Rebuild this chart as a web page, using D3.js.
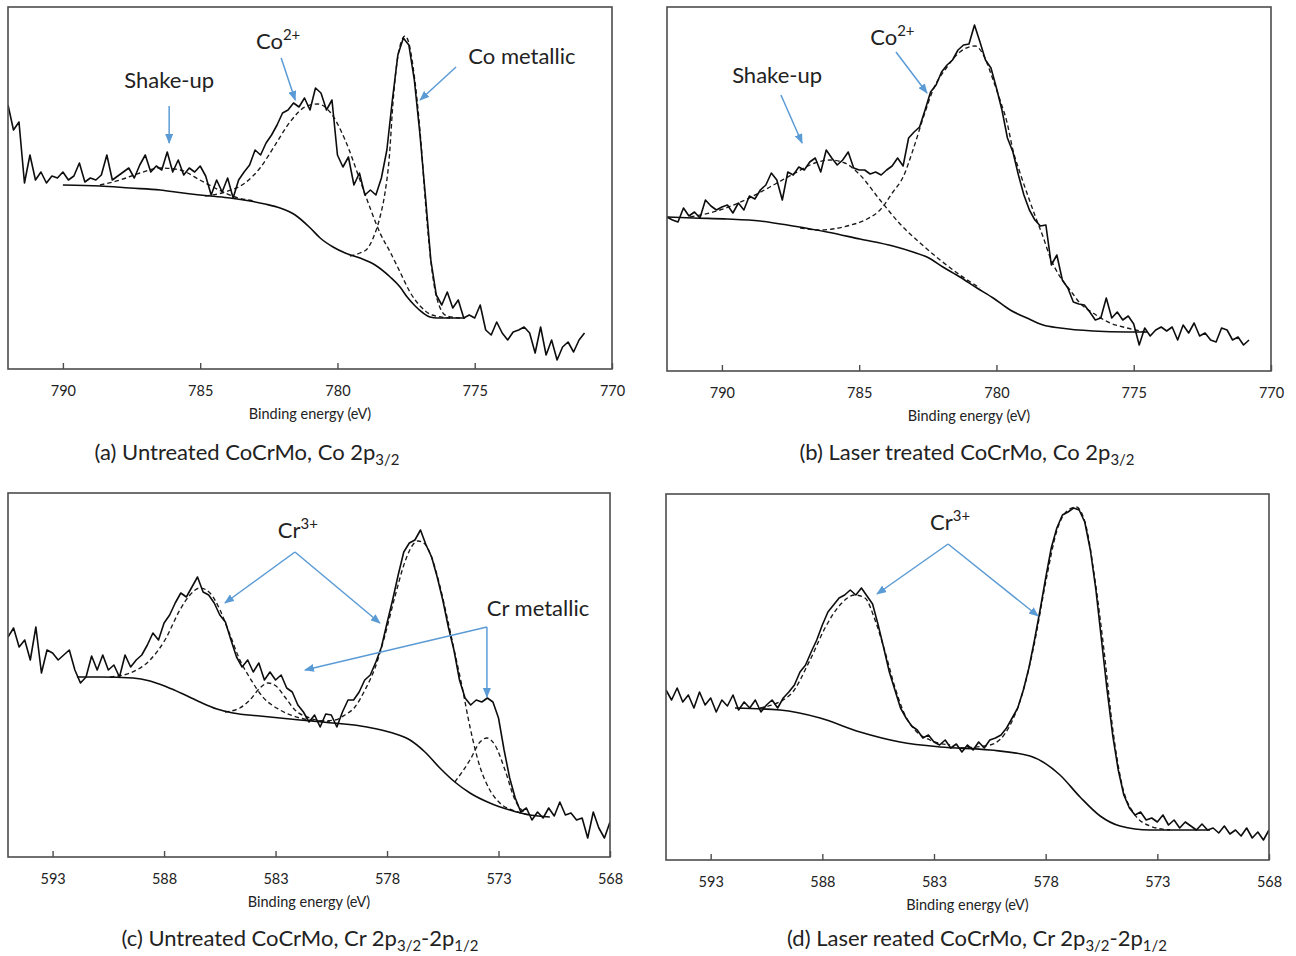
<!DOCTYPE html>
<html>
<head>
<meta charset="utf-8">
<title>XPS spectra of CoCrMo</title>
<script src="https://cdn.jsdelivr.net/npm/d3@7"></script>
<style>
  html, body { margin: 0; padding: 0; background: #fff; }
  svg { display: block; }
</style>
</head>
<body>
<svg id="fig" width="1296" height="956"></svg>
<script>
// ---------------------------------------------------------------
// Tick labels (binding energy, eV)
const coTicks = [790, 785, 780, 775, 770];
const crTicks = [593, 588, 583, 578, 573, 568];

// ---------------------------------------------------------------
// (a) Untreated CoCrMo, Co 2p3/2 — raw counts on a 0.2 eV grid starting at 792 eV
const aStart = 792, aStep = 0.2;
const aCounts = [
  264, 239, 247, 186, 214, 189, 197, 186, 193, 191,
  197, 189, 193, 206, 187, 191, 189, 194, 214, 189,
  193, 197, 201, 191, 204, 214, 197, 203, 199, 217,
  197, 209, 194, 201, 197, 203, 193, 174, 189, 177,
  191, 171, 189, 197, 204, 219, 214, 226, 234, 244,
  256, 259, 266, 262, 271, 259, 281, 276, 259, 269,
  214, 202, 212, 184, 196, 174, 179, 174, 191, 219,
  269, 314, 331, 324, 289, 236, 174, 109, 74, 64,
  77, 61, 69, 51, 54, 51, 64, 39, 34, 47,
  36, 29, 37, 39, 42, 36, 16, 42, 14, 29,
  9, 22, 27, 17, 29, 36
];
// Shirley background
const aBgEV = [790.0, 788.65, 787.56, 786.46, 785.62, 784.64, 783.91, 783.18, 782.64, 782.09, 781.54, 780.99, 780.63, 780.16, 779.72, 779.18, 778.63, 778.08, 777.72, 777.46, 777.17, 776.88, 776.63, 776.37, 775.35];
const aBg   = [184, 183, 181, 179, 176, 173, 171, 168, 165, 161, 154, 141, 131, 122, 116, 111, 104, 92, 82, 72, 63, 56, 52, 51, 51];
// Fitted components (component + background)
const aShakeEV = [788.65, 787.92, 787.19, 786.46, 785.73, 785.01, 784.46, 783.73, 783.0];
const aShake   = [184, 189, 196, 201, 199, 189, 181, 172, 168];
const aCo2EV = [784.82, 784.09, 783.37, 782.82, 782.27, 781.73, 781.18, 780.71, 780.27, 779.72, 779.18, 778.81, 778.45, 778.08, 777.72, 777.36, 776.99, 776.55, 775.9];
const aCo2   = [173, 177, 186, 201, 224, 247, 262, 265, 257, 229, 189, 161, 136, 117, 97, 77, 63, 54, 51];
const aMetEV = [779.54, 779.18, 778.92, 778.70, 778.45, 778.27, 778.12, 777.97, 777.83, 777.68, 777.54, 777.39, 777.25, 777.10, 776.95, 776.81, 776.66, 776.48, 776.26, 776.01, 775.54];
const aMet   = [113, 116, 120, 131, 152, 176, 209, 269, 307, 327, 333, 325, 303, 269, 224, 172, 124, 84, 61, 53, 51];

// ---------------------------------------------------------------
// (b) Laser treated CoCrMo, Co 2p3/2
const bStart = 792, bStep = 0.2;
const bCounts = [
  154, 151, 149, 163, 155, 159, 153, 171, 165, 161,
  164, 166, 158, 168, 161, 175, 172, 181, 186, 198,
  191, 171, 199, 196, 204, 201, 209, 213, 199, 221,
  213, 206, 211, 219, 203, 201, 201, 197, 199, 196,
  201, 205, 213, 205, 233, 239, 244, 261, 279, 286,
  299, 306, 311, 321, 326, 327, 346, 329, 311, 303,
  283, 261, 233, 219, 196, 176, 161, 151, 145, 146,
  106, 116, 91, 83, 69, 67, 66, 59, 51, 53,
  73, 53, 59, 51, 55, 47, 26, 43, 35, 41,
  44, 40, 44, 31, 46, 38, 48, 35, 38, 31,
  29, 43, 41, 31, 34, 26, 31
];
const bBgEV = [792.0, 791.05, 789.81, 788.61, 787.41, 786.17, 784.97, 783.77, 783.04, 782.53, 781.95, 781.33, 780.71, 780.12, 779.50, 778.89, 778.30, 777.68, 776.48, 775.24, 774.51];
const bBg   = [154, 153, 152, 150, 145, 139, 132, 125, 119, 114, 104, 94, 83, 73, 61, 53, 46, 43, 40, 39, 39];
const bShakeEV = [791.16, 790.07, 789.16, 788.25, 787.34, 786.61, 786.06, 785.52, 784.97, 784.24, 783.51, 782.78, 782.05, 781.33, 780.60];
const bShake   = [154, 161, 171, 184, 198, 208, 211, 208, 196, 171, 147, 128, 111, 96, 83];
const bCo2EV = [787.15, 786.43, 785.44, 784.71, 784.24, 783.77, 783.40, 783.04, 782.67, 782.31, 781.80, 781.33, 780.78, 780.42, 780.16, 779.87, 779.61, 779.40, 779.14, 778.89, 778.59, 778.30, 778.05, 777.68, 777.32, 776.96, 776.48, 775.86, 775.24, 774.59];
const bCo2   = [143, 141, 145, 152, 161, 179, 194, 221, 253, 281, 304, 319, 325, 313, 294, 271, 248, 221, 198, 178, 155, 134, 114, 94, 81, 68, 58, 48, 43, 39];

// ---------------------------------------------------------------
// (c) Untreated CoCrMo, Cr 2p — 0.25 eV grid starting at 595 eV
const cStart = 595, cStep = 0.25;
const cCounts = [
  220, 229, 210, 217, 197, 230, 184, 207, 204, 197,
  202, 207, 187, 174, 180, 201, 187, 202, 187, 192,
  180, 202, 190, 197, 202, 212, 224, 217, 234, 242,
  254, 264, 260, 270, 280, 265, 262, 254, 242, 235,
  217, 200, 190, 197, 185, 194, 177, 185, 177, 182,
  169, 165, 152, 145, 135, 142, 130, 143, 142, 130,
  145, 157, 157, 165, 177, 182, 195, 210, 234, 257,
  282, 305, 314, 317, 327, 312, 300, 280, 257, 230,
  207, 177, 159, 152, 157, 155, 159, 155, 139, 107,
  79, 59, 45, 49, 37, 45, 39, 49, 41, 55,
  42, 44, 37, 39, 19, 45, 29, 19, 35
];
const cBgEV = [591.91, 590.87, 589.39, 588.63, 587.87, 587.15, 586.39, 585.63, 584.91, 583.70, 581.91, 580.43, 578.90, 577.74, 576.97, 576.30, 575.63, 574.96, 574.28, 573.39, 572.49, 571.59, 570.70];
const cBg   = [180, 180, 179, 176, 170, 163, 155, 148, 144, 141, 137, 134, 130, 124, 117, 105, 89, 75, 64, 54, 47, 42, 40];
const cCr3HalfEV = [590.43, 589.53, 588.63, 587.96, 587.29, 586.84, 586.39, 585.94, 585.49, 585.04, 584.60, 584.15, 583.57, 582.80, 581.91, 581.01];
const cCr3Half   = [180, 184, 197, 217, 247, 262, 269, 264, 247, 222, 197, 179, 160, 147, 139, 136];
const cMetHalfEV = [585.27, 584.60, 584.15, 583.70, 583.34, 582.98, 582.58, 582.13, 581.46, 580.56];
const cMetHalf   = [145, 149, 157, 169, 174, 171, 160, 147, 139, 135];
const cCr3MainEV = [581.01, 580.34, 579.89, 579.44, 578.99, 578.54, 578.09, 577.65, 577.20, 576.88, 576.61, 576.30, 575.99, 575.63, 575.27, 574.96, 574.64, 574.28, 573.83, 573.39, 572.94, 572.26, 571.59];
const cCr3Main   = [136, 137, 142, 150, 167, 189, 222, 260, 295, 311, 316, 313, 299, 271, 236, 204, 171, 130, 90, 67, 54, 46, 42];
const cMetMainEV = [574.96, 574.28, 573.83, 573.52, 573.16, 572.71, 572.26, 571.82];
const cMetMain   = [75, 97, 115, 119, 112, 87, 57, 44];

// ---------------------------------------------------------------
// (d) Laser treated CoCrMo, Cr 2p
const dStart = 595, dStep = 0.25;
const dCounts = [
  170, 160, 172, 158, 165, 152, 168, 155, 162, 148,
  160, 154, 165, 150, 158, 152, 160, 148, 155, 160,
  152, 162, 168, 175, 188, 195, 208, 220, 235, 248,
  255, 262, 265, 270, 265, 272, 264, 256, 235, 212,
  188, 170, 152, 142, 134, 130, 122, 125, 118, 115,
  120, 112, 116, 108, 115, 110, 118, 112, 120, 122,
  125, 132, 142, 152, 170, 192, 220, 250, 282, 312,
  332, 345, 348, 352, 350, 338, 310, 270, 220, 170,
  125, 90, 65, 52, 45, 48, 40, 42, 38, 45,
  35, 40, 32, 38, 34, 30, 36, 30, 32, 27,
  34, 26, 30, 24, 32, 22, 28, 20, 30
];
const dBgEV = [591.91, 589.89, 588.10, 586.31, 584.52, 582.73, 580.49, 578.70, 577.36, 576.46, 575.56, 574.67, 573.33, 570.64];
const dBg   = [152, 150, 142, 128, 118, 113, 110, 104, 85, 63, 44, 34, 30, 30];
const dCr3HalfEV = [590.79, 589.45, 588.55, 587.88, 587.21, 586.54, 586.09, 585.64, 585.19, 584.74, 584.30, 583.85, 583.18, 582.28];
const dCr3Half   = [152, 165, 200, 232, 255, 265, 262, 240, 208, 172, 145, 130, 120, 115];
const dCr3MainEV = [581.83, 580.49, 579.59, 579.06, 578.52, 577.98, 577.49, 577.09, 576.64, 576.24, 575.79, 575.39, 574.99, 574.58, 574.09, 573.33, 572.43];
const dCr3Main   = [112, 115, 135, 165, 215, 280, 330, 348, 353, 338, 280, 210, 130, 75, 48, 34, 30];

// ---------------------------------------------------------------
const FONT = "Lato, 'Open Sans', 'DejaVu Sans', sans-serif";
const INK = '#0d0d0d';
const FRAME = '#4d4d4d';
const ARROW = '#5b9bd5';

const svg = d3.select('#fig');
const defs = svg.append('defs');
defs.append('marker')
  .attr('id', 'arrowHead')
  .attr('viewBox', '0 0 10 8')
  .attr('refX', 9).attr('refY', 4)
  .attr('markerWidth', 10).attr('markerHeight', 8)
  .attr('markerUnits', 'userSpaceOnUse')
  .attr('orient', 'auto')
  .append('path').attr('d', 'M0,0L10,4L0,8Z').attr('fill', ARROW);

// Text made of runs that may be raised (sup) or lowered (sub)
function richText(sel, parts, fs) {
  const shiftOf = p => p.pos === 'sup' ? -fs * 0.42 : p.pos === 'sub' ? fs * 0.24 : 0;
  let prev = 0;
  parts.forEach(p => {
    const s = shiftOf(p);
    sel.append('tspan')
      .attr('dy', s - prev)
      .attr('font-size', p.pos ? fs * 0.68 : fs)
      .text(p.t);
    prev = s;
  });
}

function drawPanel(p) {
  const x = d3.scaleLinear().domain(p.domain).range([p.left, p.right]);
  const y = d3.scaleLinear().domain([0, p.bottom - p.top]).range([p.bottom, p.top]);
  const g = svg.append('g').attr('class', 'panel-' + p.id);

  defs.append('clipPath').attr('id', 'clip-' + p.id)
    .append('rect')
    .attr('x', p.left).attr('y', p.top)
    .attr('width', p.right - p.left).attr('height', p.bottom - p.top);
  const plot = g.append('g').attr('clip-path', `url(#clip-${p.id})`);

  const smooth = d3.line().x(d => x(d[0])).y(d => y(d[1])).curve(d3.curveMonotoneX);
  const jagged = d3.line().x(d => x(d[0])).y(d => y(d[1]));

  // fitted components, dashed
  p.components.forEach(c => {
    plot.append('path')
      .attr('d', smooth(d3.zip(c.ev, c.counts)))
      .attr('fill', 'none').attr('stroke', '#1a1a1a')
      .attr('stroke-width', 1.35).attr('stroke-dasharray', '4.5,3');
  });

  // background
  plot.append('path')
    .attr('d', smooth(d3.zip(p.bg.ev, p.bg.counts)))
    .attr('fill', 'none').attr('stroke', INK).attr('stroke-width', 1.6);

  // measured spectrum
  const raw = p.spec.counts.map((c, i) => [p.spec.start - i * p.spec.step, c]);
  plot.append('path')
    .attr('d', jagged(raw))
    .attr('fill', 'none').attr('stroke', INK)
    .attr('stroke-width', 1.6).attr('stroke-linejoin', 'round');

  // frame
  g.append('rect')
    .attr('x', p.left).attr('y', p.top)
    .attr('width', p.right - p.left).attr('height', p.bottom - p.top)
    .attr('fill', 'none').attr('stroke', FRAME).attr('stroke-width', 1.6);

  // axis with inward ticks
  const axis = d3.axisBottom(x).tickValues(p.ticks).tickSize(-6).tickPadding(17).tickFormat(d3.format('d'));
  const ax = g.append('g').attr('transform', `translate(0,${p.bottom})`).call(axis);
  ax.select('.domain').remove();
  ax.selectAll('.tick line').attr('stroke', FRAME).attr('stroke-width', 1.4);
  ax.selectAll('.tick text').attr('font-size', 14.5).attr('font-family', FONT).attr('fill', '#222');

  g.append('text')
    .attr('x', (p.left + p.right) / 2).attr('y', p.bottom + 50)
    .attr('text-anchor', 'middle').attr('font-family', FONT)
    .attr('font-size', 14.5).attr('fill', '#222')
    .text('Binding energy (eV)');

  // caption
  const cap = g.append('text')
    .attr('x', p.caption.x).attr('y', p.caption.y)
    .attr('text-anchor', 'middle').attr('font-family', FONT).attr('fill', '#222');
  richText(cap, p.caption.parts, 22);

  // annotations
  p.arrows.forEach(a => {
    g.append('line')
      .attr('x1', x(a[0])).attr('y1', y(a[1]))
      .attr('x2', x(a[2])).attr('y2', y(a[3]))
      .attr('stroke', ARROW).attr('stroke-width', 1.5)
      .attr('marker-end', 'url(#arrowHead)');
  });
  p.labels.forEach(l => {
    const t = g.append('text')
      .attr('x', x(l.ev)).attr('y', y(l.v))
      .attr('text-anchor', 'middle').attr('font-family', FONT).attr('fill', '#222');
    richText(t, l.parts, 22);
  });
}

drawPanel({
  id: 'a', left: 8, right: 612, top: 7, bottom: 369, domain: [792, 770], ticks: coTicks,
  spec: { start: aStart, step: aStep, counts: aCounts },
  bg: { ev: aBgEV, counts: aBg },
  components: [
    { ev: aShakeEV, counts: aShake },
    { ev: aCo2EV, counts: aCo2 },
    { ev: aMetEV, counts: aMet }
  ],
  labels: [
    { ev: 786.13, v: 281, parts: [{ t: 'Shake-up' }] },
    { ev: 782.16, v: 320, parts: [{ t: 'Co' }, { t: '2+', pos: 'sup' }] },
    { ev: 773.28, v: 305, parts: [{ t: 'Co metallic' }] }
  ],
  arrows: [
    [786.13, 263, 786.13, 226],
    [782.05, 311, 781.54, 269],
    [775.68, 302, 776.99, 269]
  ],
  caption: { x: 247, y: 460, parts: [{ t: '(a) Untreated CoCrMo, Co 2p' }, { t: '3/2', pos: 'sub' }] }
});

drawPanel({
  id: 'b', left: 667, right: 1271, top: 7, bottom: 371, domain: [792, 770], ticks: coTicks,
  spec: { start: bStart, step: bStep, counts: bCounts },
  bg: { ev: bBgEV, counts: bBg },
  components: [
    { ev: bShakeEV, counts: bShake },
    { ev: bCo2EV, counts: bCo2 }
  ],
  labels: [
    { ev: 787.99, v: 288, parts: [{ t: 'Shake-up' }] },
    { ev: 783.79, v: 326, parts: [{ t: 'Co' }, { t: '2+', pos: 'sup' }] }
  ],
  arrows: [
    [787.85, 276, 787.08, 228],
    [783.66, 319, 782.53, 278]
  ],
  caption: { x: 967, y: 460, parts: [{ t: '(b) Laser treated CoCrMo, Co 2p' }, { t: '3/2', pos: 'sub' }] }
});

drawPanel({
  id: 'c', left: 8, right: 610, top: 493, bottom: 857, domain: [595, 568], ticks: crTicks,
  spec: { start: cStart, step: cStep, counts: cCounts },
  bg: { ev: cBgEV, counts: cBg },
  components: [
    { ev: cCr3HalfEV, counts: cCr3Half },
    { ev: cMetHalfEV, counts: cMetHalf },
    { ev: cCr3MainEV, counts: cCr3Main },
    { ev: cMetMainEV, counts: cMetMain }
  ],
  labels: [
    { ev: 582.0, v: 319, parts: [{ t: 'Cr' }, { t: '3+', pos: 'sup' }] },
    { ev: 571.23, v: 241, parts: [{ t: 'Cr metallic' }] }
  ],
  arrows: [
    [582.13, 305, 585.27, 254],
    [582.13, 305, 578.32, 234],
    [573.52, 230, 581.68, 187],
    [573.52, 230, 573.52, 160]
  ],
  caption: { x: 300, y: 946, parts: [{ t: '(c) Untreated CoCrMo, Cr 2p' }, { t: '3/2', pos: 'sub' }, { t: '-2p' }, { t: '1/2', pos: 'sub' }] }
});

drawPanel({
  id: 'd', left: 666, right: 1269, top: 494, bottom: 860, domain: [595, 568], ticks: crTicks,
  spec: { start: dStart, step: dStep, counts: dCounts },
  bg: { ev: dBgEV, counts: dBg },
  components: [
    { ev: dCr3HalfEV, counts: dCr3Half },
    { ev: dCr3MainEV, counts: dCr3Main }
  ],
  labels: [
    { ev: 582.28, v: 330, parts: [{ t: 'Cr' }, { t: '3+', pos: 'sup' }] }
  ],
  arrows: [
    [582.37, 316, 585.55, 266],
    [582.37, 316, 578.34, 244]
  ],
  caption: { x: 977, y: 946, parts: [{ t: '(d) Laser reated CoCrMo, Cr 2p' }, { t: '3/2', pos: 'sub' }, { t: '-2p' }, { t: '1/2', pos: 'sub' }] }
});
</script>
</body>
</html>
